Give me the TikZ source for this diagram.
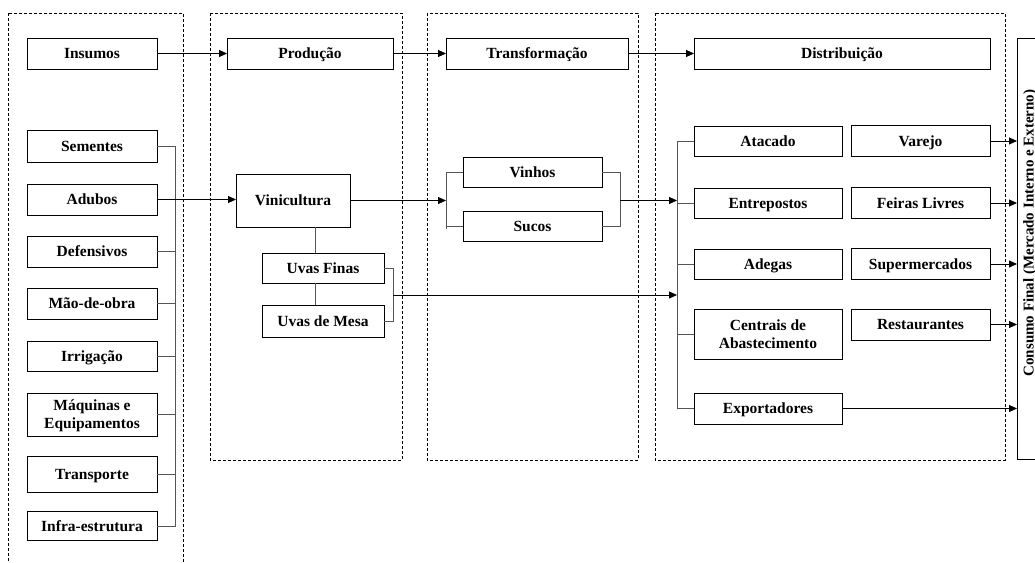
\documentclass[tikz,border=0pt]{standalone}
\usepackage{fontspec}
\setmainfont{Liberation Serif}
\usetikzlibrary{arrows.meta}
\definecolor{linkgray}{HTML}{555555}

\begin{document}
\begin{tikzpicture}[x=1pt, y=-1pt,
    caixa/.style={draw, line width=0.8pt, inner sep=0pt, outer sep=0pt, align=center,
      text depth=0pt, font=\fontsize{15.5}{18}\selectfont\bfseries},
    elo/.style={linkgray, line width=0.8pt},
    seta/.style={line width=0.8pt, -{Triangle[length=8pt, width=7pt]}},
    coluna/.style={dash pattern=on 3pt off 2pt, line width=0.7pt}]
    \path[use as bounding box, clip] (0,0) rectangle (1035,562);
    % colunas tracejadas
    \draw[coluna] (8,13) rectangle (183,580);
    \draw[coluna] (210,13) rectangle (402,460);
    \draw[coluna] (427,13) rectangle (638,460);
    \draw[coluna] (655,13) rectangle (1005,460);
    \coordinate (esp1) at (175,0);
    \coordinate (esp2) at (393,0);
    \coordinate (esp3a) at (446,0);
    \coordinate (esp3b) at (620,0);
    \coordinate (esp4) at (677,0);
    % insumos
    \node[caixa, minimum width=130, minimum height=31] (ins) at (92,53.5) {Insumos};
    \foreach \nome/\yc/\h/\txt in {sem/146/32/Sementes, adu/199.5/31/Adubos,
        def/251.5/31/Defensivos, mao/303.5/31/Mão-de-obra, irr/356/30/Irrigação,
        maq/414.5/43/{Máquinas e\\Equipamentos}, trp/474/36/Transporte,
        inf/526/29/Infra-estrutura} {
      \node[caixa, minimum width=130, minimum height=\h] (\nome) at (92,\yc) {\txt};
    }
    \draw[elo] (sem.east) -- (sem.east -| esp1) -- (inf.east -| esp1) -- (inf.east);
    \foreach \nome in {def,mao,irr,maq,trp} {
      \draw[elo] (\nome.east) -- (\nome.east -| esp1);
    }
    % producao
    \node[caixa, minimum width=166, minimum height=31] (pro) at (310,53.5) {Produção};
    \node[caixa, minimum width=114, minimum height=53] (vin) at (293,200.5) {Vinicultura};
    \node[caixa, minimum width=122, minimum height=30] (ufi) at (323,268) {Uvas Finas};
    \node[caixa, minimum width=122, minimum height=32] (ume) at (323,321) {Uvas de Mesa};
    \draw[elo] ([xshift=22pt]vin.south) -- ([xshift=22pt]vin.south |- ufi.north);
    \draw[elo] ([xshift=22pt]vin.south |- ufi.south) -- ([xshift=22pt]vin.south |- ume.north);
    \draw[elo] (ufi.east) -- (ufi.east -| esp2) -- (ume.east -| esp2) -- (ume.east);
    \coordinate (uvas) at (393,295);
    % transformacao
    \node[caixa, minimum width=182, minimum height=31] (trf) at (537,53.5) {Transformação};
    \node[caixa, minimum width=139, minimum height=30] (vho) at (532.5,172) {Vinhos};
    \node[caixa, minimum width=139, minimum height=30] (suc) at (532.5,226) {Sucos};
    \draw[elo] (vho.west) -- (vho.west -| esp3a) -- ([yshift=-3pt]suc.west -| esp3a);
    \draw[elo] (suc.west) -- (suc.west -| esp3a);
    \draw[elo] (vho.east) -- (vho.east -| esp3b) -- (suc.east -| esp3b) -- (suc.east);
    \coordinate (vs) at (620,200.5);
    % distribuicao
    \node[caixa, minimum width=296, minimum height=31] (dis) at (842,53.5) {Distribuição};
    \foreach \nome/\yc/\h/\txt in {ata/141/30/Atacado, ent/203/30/Entrepostos,
        ade/264/30/Adegas, cen/334/50/{Centrais de\\Abastecimento},
        exp/408.5/31/Exportadores} {
      \node[caixa, minimum width=148, minimum height=\h] (\nome) at (768,\yc) {\txt};
    }
    \foreach \nome/\yc/\txt in {var/141/Varejo, fei/203/Feiras Livres,
        sup/264/Supermercados, res/324.5/Restaurantes} {
      \node[caixa, minimum width=139, minimum height=31] (\nome) at (920.5,\yc) {\txt};
    }
    \draw[elo] (ata.west) -- (ata.west -| esp4) -- (exp.west -| esp4) -- (exp.west);
    \foreach \nome in {ent,ade,cen} {
      \draw[elo] (\nome.west) -- (\nome.west -| esp4);
    }
    % consumo final
    \node[caixa, rotate=90, minimum width=421, minimum height=28,
      font=\fontsize{15}{18}\selectfont\bfseries] (con) at (1031,248.5)
      {\hspace*{31pt}\raisebox{5pt}{Consumo Final (Mercado Interno e Externo)}};
    % setas
    \draw[seta] (ins.east) -- (pro.west);
    \draw[seta] (pro.east) -- (trf.west);
    \draw[seta] (trf.east) -- (dis.west);
    \draw[seta] (adu.east) -- (adu.east -| vin.west);
    \draw[seta] (vin.east) -- (vin.east -| esp3a);
    \draw[seta] (vs) -- (vs -| esp4);
    \draw[seta] (uvas) -- (uvas -| esp4);
    \foreach \nome in {var,fei,sup,res,exp} {
      \draw[seta] (\nome.east) -- (\nome.east -| con.north);
    }
\end{tikzpicture}
\end{document}
